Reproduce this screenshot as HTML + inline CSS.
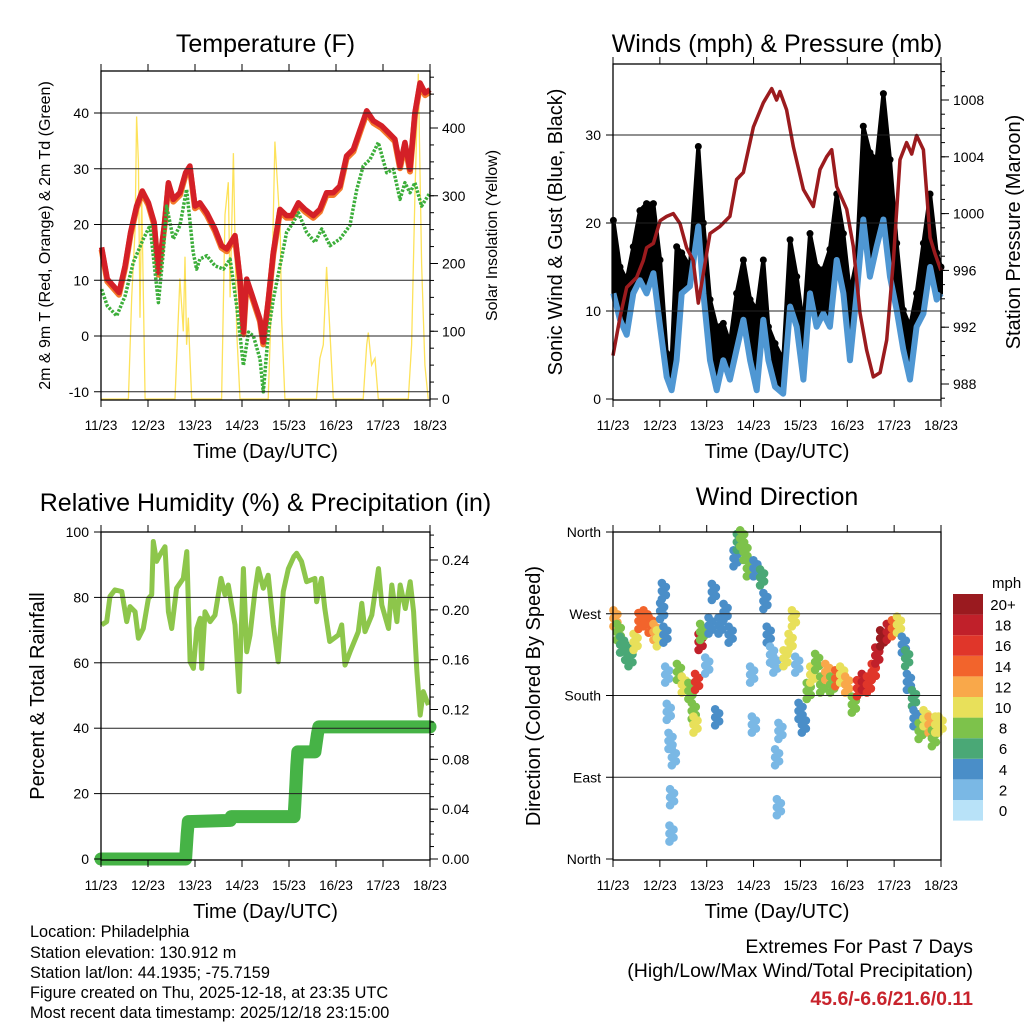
<!DOCTYPE html>
<html><head><meta charset="utf-8">
<style>
html,body{margin:0;padding:0;background:#fff;}
svg{display:block;font-family:"Liberation Sans Narrow","Liberation Sans",Arial,sans-serif;}
</style></head>
<body>
<svg id="chart" width="1024" height="1024" viewBox="0 0 1024 1024" xmlns="http://www.w3.org/2000/svg">
<rect width="1024" height="1024" fill="#fff"/>
<g id="layer"></g>
<g font-size="16.3" fill="#000">
<text x="30" y="937">Location: Philadelphia</text>
<text x="30" y="958">Station elevation: 130.912 m</text>
<text x="30" y="978">Station lat/lon: 44.1935; -75.7159</text>
<text x="30" y="998">Figure created on Thu, 2025-12-18, at 23:35 UTC</text>
<text x="30" y="1018">Most recent data timestamp: 2025/12/18 23:15:00</text>
</g>
<g font-size="19.5" text-anchor="end">
<text x="973" y="953">Extremes For Past 7 Days</text>
<text x="973" y="977">(High/Low/Max Wind/Total Precipitation)</text>
<text x="973" y="1005" fill="#c8232c" font-weight="bold">45.6/-6.6/21.6/0.11</text>
</g>
</svg>
<script>
// ---------- data ----------
const dayLabels = ["11/23","12/23","13/23","14/23","15/23","16/23","17/23","18/23"];
const tHours = [0.3,3.2,6.3,9.2,12.3,15.1,18.2,21.1,24.2,27.1,29.3,32.3,34.4,36.9,40.3,43.2,45.4,48,50.5,54,58.2,61.6,64.2,68.4,71,72.7,74.4,77.8,81.2,82.9,85.5,88,91.4,94.8,97.4,100.8,104.2,108.4,111.8,115.2,118.6,122,125.4,128.9,132.3,135.7,139.1,143.3,146.7,150.1,152.7,155.2,157.8,160.3,162.9,165.5,168];
const tempF = [15.9,10.2,9,7.8,12.6,18.6,23.3,26,23.9,20.4,11.4,19.8,27.5,24.5,25.7,29.3,30.5,23.3,23.9,22.1,19.2,16.2,15.6,18,10.2,0.7,10.2,6.6,3,-1.1,6.6,15,22.7,21.6,21.6,23.9,22.7,21.6,22.7,25.7,25.7,26.9,32.3,33.5,37,40.4,38.6,37.7,36.5,35.3,30.5,34.7,29.9,40,45.4,43.6,44.2];
const tdHours = [0.3,3.2,8,12.3,16.5,21.6,25,27.6,29.3,31.8,33.5,36.9,40.3,43.7,47.1,48.8,50.5,54,58.2,62.5,65.9,69.3,72.7,75.3,77.8,81.2,82.9,85.5,88,91.4,94.8,98.2,100.8,105,109.3,112.7,117,122,127.1,130.6,133.9,137.4,141.6,145.9,149.3,152.7,155.2,157.8,160.3,163.7,168];
const dewF = [8.4,5.4,3.6,7.2,13.2,17.4,19.8,11.4,6,15,23.3,17.4,19.8,26.3,15,12,13.8,14.4,12.6,12,13.8,5.4,-5.3,0.7,0,-4.1,-10,0.7,6.6,12.6,18.6,20.4,22.1,18.6,16.8,19.2,16.2,17.4,19.8,26.3,30.5,31.7,34.7,29.3,29.9,24.5,27.5,25.7,27.5,23.3,25.7];
const solarHours = [0,14,15.7,17.4,18.2,19.1,19.9,20.8,22.5,37.8,40.3,42,42.9,43.7,44.6,46.3,61.6,63.3,65,65.9,67.6,69.3,71,85.4,87.1,88.8,90.5,91.5,92.2,93.9,110,111.8,113.5,115.2,116.9,118.6,133.9,135.7,136.5,138.2,139.9,141.6,156.9,158.6,160.3,162,163.7,165.4,167.1];
const solarW = [0,0,150,250,417,350,120,300,0,0,178,100,210,80,120,0,0,272,320,150,363,100,0,0,150,380,300,250,120,0,0,60,80,195,100,0,0,80,98,50,60,0,0,80,300,480,200,50,0];
const windHours = [0.2,3.6,7,10.4,13.8,17.2,20.7,24.1,27.5,30,32.6,35.2,39.4,43.7,46.3,49.7,53.1,56.5,59.9,63.3,66.8,70.2,73.6,77,79.6,83,87.2,90.7,94.1,97.5,100.9,104.3,107.7,111.1,114.6,118,121.4,124.8,128.2,131.6,135,138.5,141.9,145.3,148.7,152.1,155.5,159,162.4,165.8,168];
const windMph = [12,9,7.3,12,13.5,12,14.3,8.2,2.5,1,4.4,12,12.8,19.6,12,4.4,1,4.4,2.2,5.6,9,4.4,1,9,4.4,1.4,0.6,10.5,8.2,2.2,12,8.2,9.7,8.2,15.8,12,4.4,12,20.4,13.9,17.3,20.4,13.9,10.1,5.6,2.2,8.2,9.7,15,11.3,12];
const gustMph = [20.3,15,13.5,17.3,21.4,22.2,22.2,15.8,5.2,4.4,17.3,16.6,15,28.7,20,11.3,8.2,8.6,6.3,12,15.8,11.3,10.1,15.8,8.2,6.3,4.4,18.1,13.9,8.2,18.8,15,14.7,17,23.3,18.8,12,15.8,31,28,27.2,34.7,27.2,17.7,10.1,8.2,12,17.7,23.3,16.6,15];
const presHours = [0,3.6,7,12.1,15.5,17.2,20.7,24.1,27.5,30.9,34.3,37.7,41.1,43.7,46.3,49.7,54.8,59.9,63.3,66.8,71.9,77,81.3,83.8,85.5,88.9,92.4,97.5,102.6,106,109.4,112,114.6,119.7,123.1,126.5,129.9,133.3,136.8,140.2,143.6,147,150.4,153,155.5,159,162.4,164.9,168];
const presMb = [990,992.7,994.8,995.5,996.7,997.6,997.9,999.5,999.8,1000,999.3,997.6,996.7,993.7,995.8,998.6,999.1,999.8,1002.4,1002.9,1006.1,1007.8,1008.8,1008,1008.6,1007.3,1004.7,1001.7,1000.5,1003.1,1004,1004.5,1001.9,1000.3,997.7,993,990.4,988.5,988.8,991.1,996.7,1003.8,1005,1004.2,1005.5,1004.5,998.3,997.2,996];
const rhHours = [0.3,2.9,4.6,7.1,10.6,13.1,14.8,17.4,19.1,21.6,24.2,25.9,26.7,28.4,30.1,32.7,34.4,36.1,38.6,42,43.8,45.5,47.2,48.9,50.6,51.4,53.1,55.7,58.2,61.3,63.3,65,66.7,68.4,70.5,72.7,74.4,76.1,78.6,80.3,82.9,85.4,88,90.5,93.1,95.7,98.5,99.9,102.4,105,109.2,110.1,112.6,114.3,116.8,121.2,122.9,124.6,127.2,131.4,133.2,134.8,138.3,141.7,143.4,146.8,148.5,151.1,152.8,155.4,157.9,159.6,161.3,163,164.6,167.2];
const rhPct = [71.6,72.6,80.3,82.3,81.8,72.6,77.2,75.6,67.5,70.5,79.7,80.8,97.1,91,93,95.5,75.6,70.5,82.8,85.8,94,60.3,58.3,70.5,73.6,58.3,75.6,72.6,74.6,85.8,80.8,83.8,77.7,71.6,51.2,88.8,63.4,68.4,81.8,88.8,82.8,86.8,71.6,60.3,81.8,88.8,92.5,93.5,91,84.8,85.8,78.7,85.8,76.6,66.5,68.5,71.6,59.3,63.4,69.5,78.2,69.5,74.6,88.8,77.7,70.5,83.8,72.6,83.8,76.6,84.8,75.6,57.3,44,51.2,47.1];
const precipHours = [0,43.2,43.6,44,44.6,66,66.5,98.6,99,99.5,100,100.5,109.2,110.5,111.2,168];
const precipIn = [0,0,0.01,0.02,0.03,0.031,0.034,0.034,0.045,0.06,0.075,0.086,0.086,0.1,0.106,0.106];
const dirHours = [1,2.7,4.4,7,8.7,11.3,13.8,16.4,19,21.5,23.2,24.9,25.8,26.6,27.5,28.3,29.2,30.9,30,29.7,33.5,36,39.4,41.1,42,42.8,44.6,45.4,48,49.7,51.4,53.1,54.8,57.4,60,62.5,64.2,65.9,67.6,69.3,71,71.9,72.7,76.1,77.8,79.5,81.2,82.9,83.8,84.7,85.5,88.1,90.7,92.4,94.1,95.8,97.5,100,101.8,104.3,106.9,109.5,112,114.6,117.1,119.7,123.1,125.7,128.2,130.8,133.3,135.1,137.6,141,143.6,146.2,148.7,150.4,151.3,153.9,154.7,157.3,159.8,162.4,164.1,165.8,167.5];
const dirDeg = [265,250,236,228,221,239,262,265,258,250,243,273,295,247,203,162,130,112,68,28,206,192,185,163,148,195,239,250,213,257,294,156,257,272,247,331,349,353,338,320,203,148,320,310,284,247,225,214,112,57,141,221,239,265,214,163,148,185,203,217,192,206,192,199,203,192,170,188,195,192,206,224,243,250,254,258,236,221,195,177,155,141,155,148,133,148,148];
const dirSpeed = [12,7,6,6,5,9,13,13,14,12,9,4,4,3,2,1,2,2,1,2,8,10,7,8,10,16,18,7,2,3,4,4,3,4,4,4,5,7,7,8,1,1,4,6,4,4,2,2,2,1,1,10,10,10,2,4,4,7,10,7,7,12,8,14,10,12,7,15,18,16,16,18,20,18,14,10,4,5,4,6,4,7,10,12,8,10,10];
const speedLabels = ["0","2","4","6","8","10","12","14","16","18","20+"];
const speedColors = ["#b8e2f8","#7ab8e5","#4a8ec8","#4aa876","#7dc24b","#e8e05a","#f9a84a","#f2642c","#e0362a","#c0202a","#9a1a1f"];

// ---------- helpers ----------
const NS = "http://www.w3.org/2000/svg";
const layer = document.getElementById("layer");
function el(tag, attrs, parent) {
  const e = document.createElementNS(NS, tag);
  for (const k in attrs) e.setAttribute(k, attrs[k]);
  (parent || layer).appendChild(e);
  return e;
}
function txt(s, attrs, parent) { const t = el("text", attrs, parent); t.textContent = s; return t; }
function lin(d0, d1, r0, r1) { return v => r0 + (v - d0) / (d1 - d0) * (r1 - r0); }
function pathOf(xs, ys, sx, sy) {
  return xs.map((h, i) => (i ? "L" : "M") + sx(h).toFixed(1) + "," + sy(ys[i]).toFixed(1)).join(" ");
}

function panel(cfg) {
  const g = el("g", {});
  
  
  cfg.g = g;
  cfg.sx = lin(0, 168, cfg.x0, cfg.x1);
  const t = txt(cfg.title, {x: (cfg.x0 + cfg.x1) / 2, y: cfg.titleY, "text-anchor": "middle", "font-size": 25, "font-family": "Liberation Sans, sans-serif"}, g);
  
  
  return g;
}
function frame(cfg) {
  const g = cfg.g;
  const r = el("rect", {x: cfg.x0, y: cfg.y0, width: cfg.x1 - cfg.x0, height: cfg.y1 - cfg.y0, fill: "none", stroke: "#000", "stroke-width": 1.3}, g);
  
  
  const xt = el("g", {}, g);
  
  
  dayLabels.forEach((lab, i) => {
    const x = cfg.sx(i * 24);
    el("line", {x1: x, x2: x, y1: cfg.y1, y2: cfg.y1 + 7, stroke: "#000", "stroke-width": 1}, xt);
    el("line", {x1: x, x2: x, y1: cfg.y0, y2: cfg.y0 - 7, stroke: "#000", "stroke-width": 1}, xt);
    const tl = txt(lab, {x: x, y: cfg.y1 + 30, "text-anchor": "middle", "font-size": 13.5}, xt);
    
    
  });
  const xl = txt("Time (Day/UTC)", {x: (cfg.x0 + cfg.x1) / 2, y: cfg.y1 + 58, "text-anchor": "middle", "font-size": 20}, g);
  
  
}
function leftAxis(cfg, ticks, labels, sy, title, tsize, tx) {
  const g = el("g", {}, cfg.g);
  
  
  ticks.forEach((v, i) => {
    const y = sy(v);
    if (y > cfg.y0 + 2 && y < cfg.y1 - 2)
      el("line", {x1: cfg.x0, x2: cfg.x1, y1: y, y2: y, stroke: "#222", "stroke-width": 1}, g);
    el("line", {x1: cfg.x0 - 7, x2: cfg.x0, y1: y, y2: y, stroke: "#000"}, g);
    const tl = txt(labels[i], {x: cfg.x0 - 12, y: y + 5, "text-anchor": "end", "font-size": 14}, g);
    
    
  });
  const cy = (cfg.y0 + cfg.y1) / 2;
  const t = txt(title, {x: tx, y: cy, "text-anchor": "middle", "font-size": tsize, transform: "rotate(-90 " + tx + " " + cy + ")"}, g);
  
  
}
function rightAxis(cfg, ticks, labels, sy, minorStep, dmin, dmax, title, tsize, tx) {
  const g = el("g", {}, cfg.g);
  
  
  for (let v = dmin; v <= dmax + 1e-9; v += minorStep) {
    const y = sy(v);
    if (y >= cfg.y0 && y <= cfg.y1) el("line", {x1: cfg.x1, x2: cfg.x1 + 4, y1: y, y2: y, stroke: "#000"}, g);
  }
  ticks.forEach((v, i) => {
    const y = sy(v);
    el("line", {x1: cfg.x1, x2: cfg.x1 + 8, y1: y, y2: y, stroke: "#000"}, g);
    const tl = txt(labels[i], {x: cfg.x1 + 12, y: y + 5, "font-size": 14}, g);
    
    
  });
  const cy = (cfg.y0 + cfg.y1) / 2;
  const t = txt(title, {x: tx, y: cy, "text-anchor": "middle", "font-size": tsize, transform: "rotate(-90 " + tx + " " + cy + ")"}, g);
  
  
}

// ---------- Panel 1 ----------
const P1 = {name: "temperature-panel", title: "Temperature (F)", titleY: 52, x0: 101, x1: 430, y0: 71, y1: 400};
panel(P1);
const syT = lin(0, 40, 336, 113);
const sySol = lin(0, 400, 399, 128);
const solar = el("path", {d: pathOf(solarHours, solarW, P1.sx, sySol), fill: "none", stroke: "#fde25a", "stroke-width": 1.3}, P1.g);


const tOr = el("path", {d: pathOf(tHours, tempF.map(v => v - 0.4), P1.sx, syT), fill: "none", stroke: "#f47a2a", "stroke-width": 6, "stroke-linejoin": "round"}, P1.g);


const tRd = el("path", {d: pathOf(tHours, tempF, P1.sx, syT), fill: "none", stroke: "#d42027", "stroke-width": 5.5, "stroke-linejoin": "round"}, P1.g);


const td = el("path", {d: pathOf(tdHours, dewF, P1.sx, syT), fill: "none", stroke: "#3cae3a", "stroke-width": 3.5, "stroke-dasharray": "2.5 1.5", "stroke-linejoin": "round"}, P1.g);


leftAxis(P1, [-10, 0, 10, 20, 30, 40], ["-10", "0", "10", "20", "30", "40"], syT, "2m & 9m T (Red, Orange) & 2m Td (Green)", 16, 50);
rightAxis(P1, [0, 100, 200, 300, 400], ["0", "100", "200", "300", "400"], sySol, 25, 0, 475, "Solar Insolation (Yellow)", 16, 497);
frame(P1);

// ---------- Panel 2 ----------
const P2 = {name: "winds-panel", title: "Winds (mph) & Pressure (mb)", titleY: 52, x0: 613, x1: 941, y0: 64, y1: 400};
panel(P2);
const syW = lin(0, 30, 399, 135);
const syP = lin(988, 1008, 384, 100);
let band = "M" + windHours.map((h, i) => P2.sx(h).toFixed(1) + "," + syW(gustMph[i]).toFixed(1)).join(" L");
band += " L" + windHours.slice().reverse().map((h, j) => { const i = windHours.length - 1 - j; return P2.sx(h).toFixed(1) + "," + syW(windMph[i]).toFixed(1); }).join(" L") + " Z";
const gb = el("path", {d: band, fill: "#000", stroke: "#000", "stroke-width": 4, "stroke-linejoin": "round"}, P2.g);


const gdots = el("g", {}, P2.g);


windHours.forEach((h, i) => {
  const c = el("circle", {cx: P2.sx(h), cy: syW(gustMph[i]), r: 3.5, fill: "#000"}, gdots);
  
  
});
const wl = el("path", {d: pathOf(windHours, windMph, P2.sx, syW), fill: "none", stroke: "#4f97d3", "stroke-width": 6, "stroke-linejoin": "round"}, P2.g);


const pl = el("path", {d: pathOf(presHours, presMb, P2.sx, syP), fill: "none", stroke: "#9b1b1e", "stroke-width": 3.5, "stroke-linejoin": "round"}, P2.g);


leftAxis(P2, [0, 10, 20, 30], ["0", "10", "20", "30"], syW, "Sonic Wind & Gust (Blue, Black)", 20, 562);
rightAxis(P2, [988, 992, 996, 1000, 1004, 1008], ["988", "992", "996", "1000", "1004", "1008"], syP, 1, 987, 1010, "Station Pressure (Maroon)", 20, 1020);
frame(P2);

// ---------- Panel 3 ----------
const P3 = {name: "humidity-panel", title: "Relative Humidity (%) & Precipitation (in)", titleY: 511, x0: 101, x1: 430, y0: 532, y1: 860};
panel(P3);
const syRH = lin(0, 100, 859, 532);
const syPr = lin(0, 0.24, 859, 560);
const rl = el("path", {d: pathOf(rhHours, rhPct, P3.sx, syRH), fill: "none", stroke: "#8dc64b", "stroke-width": 5, "stroke-linejoin": "round"}, P3.g);


const prl = el("path", {d: pathOf(precipHours, precipIn, P3.sx, syPr), fill: "none", stroke: "#46b346", "stroke-width": 13, "stroke-linejoin": "round", "stroke-linecap": "round"}, P3.g);


leftAxis(P3, [0, 20, 40, 60, 80, 100], ["0", "20", "40", "60", "80", "100"], syRH, "Percent & Total Rainfall", 20, 44);
rightAxis(P3, [0, 0.04, 0.08, 0.12, 0.16, 0.20, 0.24], ["0.00", "0.04", "0.08", "0.12", "0.16", "0.20", "0.24"], syPr, 0.01, 0, 0.26, "", 16, 480);
frame(P3);

// ---------- Panel 4 ----------
const P4 = {name: "wind-direction-panel", title: "Wind Direction", titleY: 505, x0: 613, x1: 941, y0: 532, y1: 860};
panel(P4);
const syD = lin(0, 360, 859, 532);
const dg = el("g", {}, P4.g);


function colorFor(s) { return speedColors[Math.min(10, Math.max(0, Math.round(s / 2)))]; }
dirHours.forEach((h, i) => {
  [-8, -4, 0, 4, 8].forEach((o, k) => {
    const c = el("circle", {cx: P4.sx(h) + (k % 2 ? 2.5 : -1.5), cy: syD(dirDeg[i]) + o, r: 4.3, fill: colorFor(dirSpeed[i])}, dg);
    
    
  });
});
leftAxis(P4, [0, 90, 180, 270, 360], ["North", "East", "South", "West", "North"], syD, "Direction (Colored By Speed)", 20, 540);
frame(P4);
const cb = el("g", {});


const mph = txt("mph", {x: 992, y: 588, "font-size": 15}, cb);


speedLabels.forEach((lab, i) => {
  const k = speedLabels.length - 1 - i;
  const y = 594 + k * 20.6;
  const r = el("rect", {x: 953, y: y, width: 30, height: 20.6, fill: speedColors[i]}, cb);
  
  
  const t = txt(lab, {x: 1003, y: y + 16, "text-anchor": "middle", "font-size": 15}, cb);
  
  
});
</script>
</body></html>
